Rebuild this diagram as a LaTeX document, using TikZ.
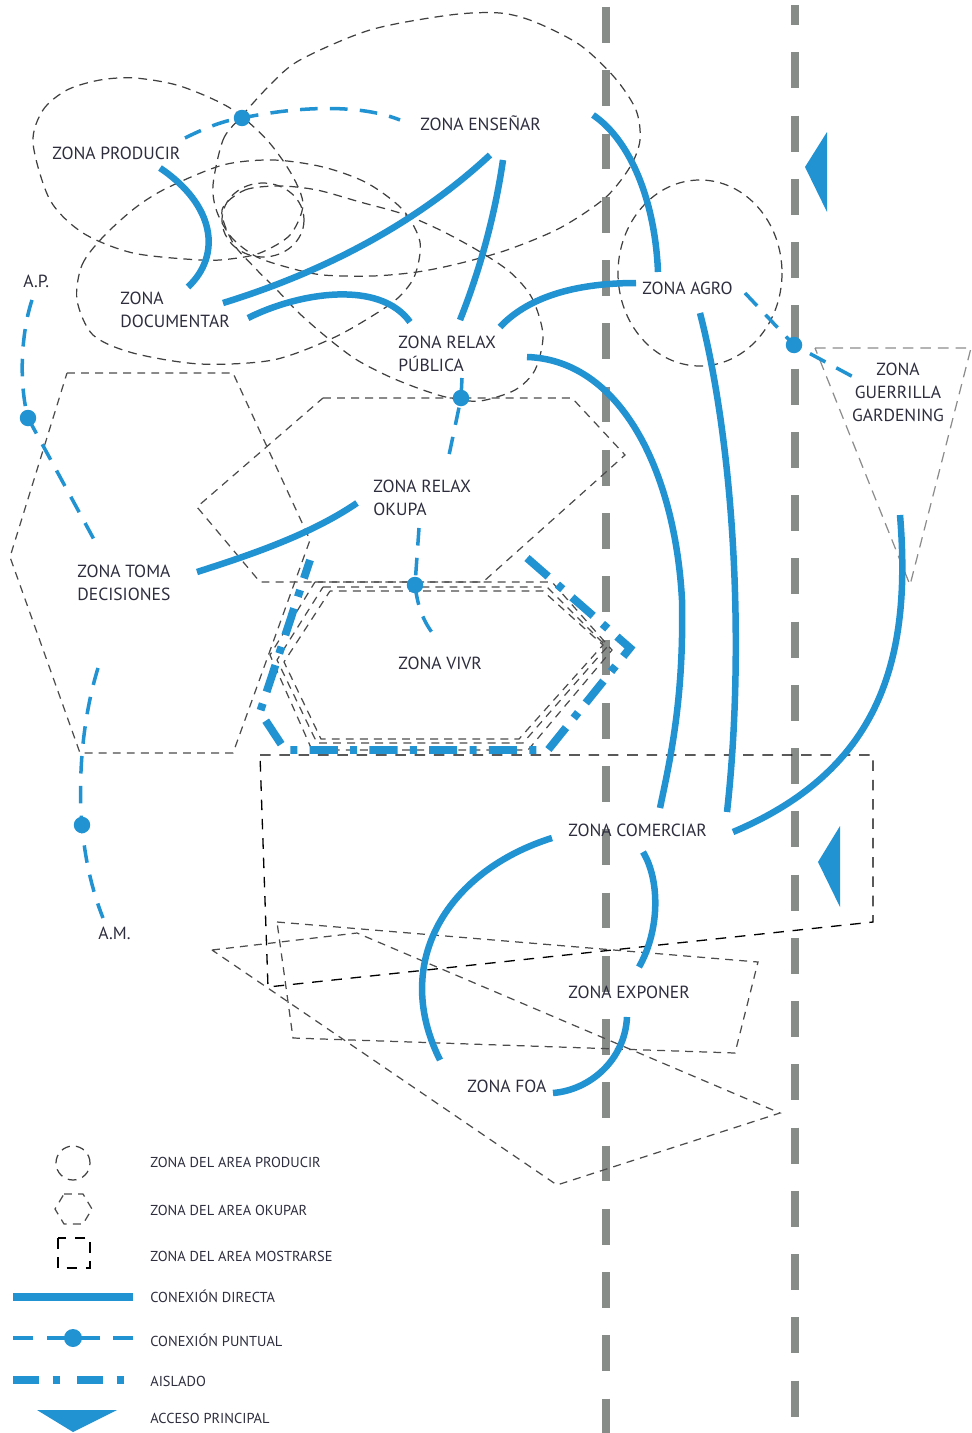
\documentclass[tikz,border=0pt]{standalone}
\usepackage{fontspec}
\setmainfont{PT Sans}
\usepackage{tikz}

\definecolor{conblue}{RGB}{33,146,210}
\definecolor{accgray}{RGB}{136,140,137}
\definecolor{labelc}{RGB}{45,45,62}

\begin{document}
\begin{tikzpicture}[x=0.02cm,y=-0.02cm,
  zone node/.style={inner sep=0pt,anchor=base west,align=left,text=labelc,font=\fontsize{10}{13}\selectfont},
  legend node/.style={inner sep=0pt,anchor=base west,text=labelc,font=\fontsize{8.2}{9}\selectfont},
  punto/.style={circle,fill=conblue,inner sep=0pt,minimum size=0.33cm},
  direct line/.style={conblue,line width=3.7pt},
  punctual line/.style={conblue,line width=2pt,dash pattern=on 10pt off 7pt},
  isolated line/.style={conblue,line width=4.5pt,dash pattern=on 16pt off 7pt on 4pt off 7pt},
  access line/.style={accgray,line width=4.5pt,dash pattern=on 20.4pt off 15.6pt},
  producir area/.style={draw=black!75,line width=0.7pt,dash pattern=on 5pt off 3.5pt},
  okupar area/.style={draw=black!70,line width=0.7pt,dash pattern=on 4.5pt off 3.5pt},
  mostrar area/.style={draw=black,line width=0.75pt,dash pattern=on 6pt off 5pt},
  guerrilla area/.style={draw=black!45,line width=0.7pt,dash pattern=on 6pt off 4pt}]

  \useasboundingbox (0,0) rectangle (972,1433);

  % access lines and main entrances
  \draw[access line] (606,7) -- (606,1433);
  \draw[access line,dash phase=9pt] (795,5) -- (795,1433);
  \fill[conblue] (805,167) -- (827,132) -- (827,212) -- cycle;
  \fill[conblue] (818,862) -- (840,826) -- (840,907) -- cycle;

  % zones of the area producir
  \draw[producir area] plot[smooth cycle] coordinates {(33,143) (43,110) (67,90) (100,80) (135,78) (180,86) (230,108) (267,140) (292,175) (303,205) (290,235) (260,253) (230,259) (200,260) (133,253) (83,233) (50,200)};
  \draw[producir area] (263,220) ellipse [x radius=41, y radius=37];
  \draw[producir area] plot[smooth cycle] coordinates {(213,185) (223,140) (240,118) (270,85) (300,60) (370,30) (450,15) (500,13) (535,22) (580,45) (615,78) (636,110) (640,140) (630,167) (605,198) (560,228) (507,250) (457,264) (417,272) (373,276) (323,275) (290,268) (257,257) (232,238) (217,212)};
  \draw[producir area] plot[smooth cycle] coordinates {(77,300) (82,265) (103,237) (135,208) (167,188) (223,165) (273,160) (323,167) (367,183) (403,210) (420,242) (415,275) (400,296) (377,313) (333,338) (273,360) (200,364) (133,353) (93,335)};
  \draw[producir area] plot[smooth cycle] coordinates {(222,210) (245,190) (280,186) (317,190) (360,202) (403,214) (440,230) (477,250) (510,272) (532,298) (543,335) (535,370) (515,390) (480,401) (450,398) (423,390) (390,377) (357,360) (330,340) (300,314) (277,290) (255,268) (233,243)};
  \draw[producir area] (700,273) ellipse [x radius=82, y radius=93];

  % zones of the area okupar
  \draw[okupar area] (67,373) -- (233,373) -- (310,540) -- (233,753) -- (80,753) -- (10,557) -- cycle;
  \draw[okupar area] (323,398) -- (572,398) -- (625,455) -- (483,582) -- (260,582) -- (197,507) -- cycle;
  \draw[okupar area] (323,587) -- (547,587) -- (607,647) -- (523,743) -- (317,743) -- (277,660) -- cycle;
  \draw[okupar area] (315,582) -- (552,582) -- (612,650) -- (528,750) -- (312,750) -- (270,655) -- cycle;
  \draw[okupar area,dash phase=3pt] (330,591) -- (543,591) -- (603,645) -- (519,739) -- (321,739) -- (284,662) -- cycle;
  \draw[okupar area] (277,922) -- (758,962) -- (735,1053) -- (293,1038) -- cycle;
  \draw[okupar area] (212,950) -- (357,933) -- (780,1113) -- (557,1185) -- cycle;
  \draw[guerrilla area] (815,348) -- (971,348) -- (910,585) -- cycle;

  % zone of the area mostrarse
  \draw[mostrar area] (260,755) -- (873,755) -- (873,922) -- (268,987) -- cycle;

  % isolated zone
  \draw[isolated line] (527,558) -- (630,648) -- (548,750) -- (285,750) -- (260,712) -- (310,560);

  \node[zone node] (prod) at (52,159) {ZONA PRODUCIR};
  \node[zone node] (ens) at (420,131) {ZONA ENSEÑAR};
  \node[zone node] (ap) at (23,287) {A.P.};
  \node[zone node] (doc) at (120,327) {ZONA\\DOCUMENTAR};
  \node[zone node] (pub) at (398,371) {ZONA RELAX\\PÚBLICA};
  \node[zone node] (agro) at (642,294) {ZONA AGRO};
  \node[zone node,anchor=base,align=center] (guer) at (898,421) {ZONA\\GUERRILLA\\GARDENING};
  \node[zone node] (okupa) at (373,515) {ZONA RELAX\\OKUPA};
  \node[zone node] (toma) at (77,600) {ZONA TOMA\\DECISIONES};
  \node[zone node] (vivr) at (398,669) {ZONA VIVR};
  \node[zone node] (com) at (568,836) {ZONA COMERCIAR};
  \node[zone node] (am) at (98,939) {A.M.};
  \node[zone node] (exp) at (568,998) {ZONA EXPONER};
  \node[zone node] (foa) at (467,1092) {ZONA FOA};

  % ends of the direct connections
  \coordinate (pd1) at (160,168); \coordinate (pd2) at (188,287);
  \coordinate (de1) at (223,303); \coordinate (de2) at (490,155);
  \coordinate (dp1) at (248,318); \coordinate (dp2) at (410,322);
  \coordinate (ep1) at (503,160); \coordinate (ep2) at (460,320);
  \coordinate (ea1) at (593,115); \coordinate (ea2) at (658,272);
  \coordinate (pa1) at (500,327); \coordinate (pa2) at (636,283);
  \coordinate (pc1) at (527,357); \coordinate (pc2) at (682,600); \coordinate (pc3) at (660,808);
  \coordinate (ac1) at (700,313); \coordinate (ac2) at (727,812);
  \coordinate (gc1) at (900,515); \coordinate (gc2) at (733,832);
  \coordinate (to1) at (197,572); \coordinate (to2) at (357,503);
  \coordinate (cf1) at (552,838); \coordinate (cf2) at (440,1060);
  \coordinate (ce1) at (643,852); \coordinate (ce2) at (639,967);
  \coordinate (ef1) at (627,1017); \coordinate (ef2) at (553,1093);

  \draw[direct line] (pd1) .. controls (215,205) and (222,255) .. (pd2);
  \draw[direct line] (de1) .. controls (330,270) and (420,220) .. (de2);
  \draw[direct line] (dp1) .. controls (300,292) and (380,280) .. (dp2);
  \draw[direct line] (ep1) .. controls (495,215) and (480,270) .. (ep2);
  \draw[direct line] (ea1) .. controls (630,140) and (655,200) .. (ea2);
  \draw[direct line] (pa1) .. controls (530,295) and (580,283) .. (pa2);
  \draw[direct line] (pc1) .. controls (620,360) and (675,470) .. (pc2) .. controls (684,700) and (670,760) .. (pc3);
  \draw[direct line] (ac1) .. controls (735,450) and (745,650) .. (ac2);
  \draw[direct line] (gc1) .. controls (912,660) and (880,770) .. (gc2);
  \draw[direct line] (to1) .. controls (250,555) and (310,535) .. (to2);
  \draw[direct line] (cf1) .. controls (450,870) and (390,960) .. (cf2);
  \draw[direct line] (ce1) .. controls (660,880) and (660,930) .. (ce2);
  \draw[direct line] (ef1) .. controls (625,1060) and (590,1090) .. (ef2);

  % punctual connections
  \node[punto] (k1) at (242,118) {};
  \node[punto] (k2) at (28,418) {};
  \node[punto] (k3) at (82,825) {};
  \node[punto] (k4) at (461,398) {};
  \node[punto] (k5) at (415,585) {};
  \node[punto] (k6) at (794,345) {};
  \coordinate (q1) at (185,138); \coordinate (q2) at (400,120);
  \coordinate (q3) at (32,300);  \coordinate (q4) at (97,545);
  \coordinate (q5) at (98,668);  \coordinate (q6) at (103,918);
  \coordinate (q7) at (462,378); \coordinate (q8) at (448,460);
  \coordinate (q9) at (419,528); \coordinate (q10) at (438,640);
  \coordinate (q11) at (745,293); \coordinate (q12) at (857,379);

  \draw[punctual line] (q1) .. controls (205,128) and (225,120) .. (k1.center) .. controls (300,106) and (360,104) .. (q2);
  \draw[punctual line] (q3) .. controls (22,330) and (18,380) .. (k2.center) -- (q4);
  \draw[punctual line] (q5) .. controls (82,720) and (78,780) .. (k3.center) .. controls (85,860) and (92,890) .. (q6);
  \draw[punctual line] (q7) -- (k4.center) -- (q8);
  \draw[punctual line] (q9) -- (k5.center) .. controls (418,610) and (425,625) .. (q10);
  \draw[punctual line] (q11) -- (k6.center) -- (q12);

  % legend
  \draw[producir area] (73,1163) circle [radius=0.34cm];
  \draw[okupar area] (64,1194) -- (83,1194) -- (92,1209) -- (83,1224) -- (64,1224) -- (55,1209) -- cycle;
  \draw[mostrar area] (58,1238) rectangle (90,1268);
  \draw[direct line,line width=4.6pt] (13,1297) -- (133,1297);
  \draw[conblue,line width=2pt] (13,1338) -- (33,1338) (47,1338) -- (100,1338) (113,1338) -- (133,1338);
  \fill[conblue] (73,1338) circle [radius=0.18cm];
  \draw[isolated line,dash pattern=on 15pt off 7.5pt on 4pt off 10pt] (13,1380) -- (128,1380);
  \fill[conblue] (37,1410) -- (117,1410) -- (73,1432) -- cycle;

  \node[legend node] (l1) at (150,1167) {ZONA DEL AREA PRODUCIR};
  \node[legend node] (l2) at (150,1215) {ZONA DEL AREA OKUPAR};
  \node[legend node] (l3) at (150,1261) {ZONA DEL AREA MOSTRARSE};
  \node[legend node] (l4) at (150,1302) {CONEXIÓN DIRECTA};
  \node[legend node] (l5) at (150,1346) {CONEXIÓN PUNTUAL};
  \node[legend node] (l6) at (150,1386) {AISLADO};
  \node[legend node] (l7) at (150,1423) {ACCESO PRINCIPAL};

\end{tikzpicture}
\end{document}
